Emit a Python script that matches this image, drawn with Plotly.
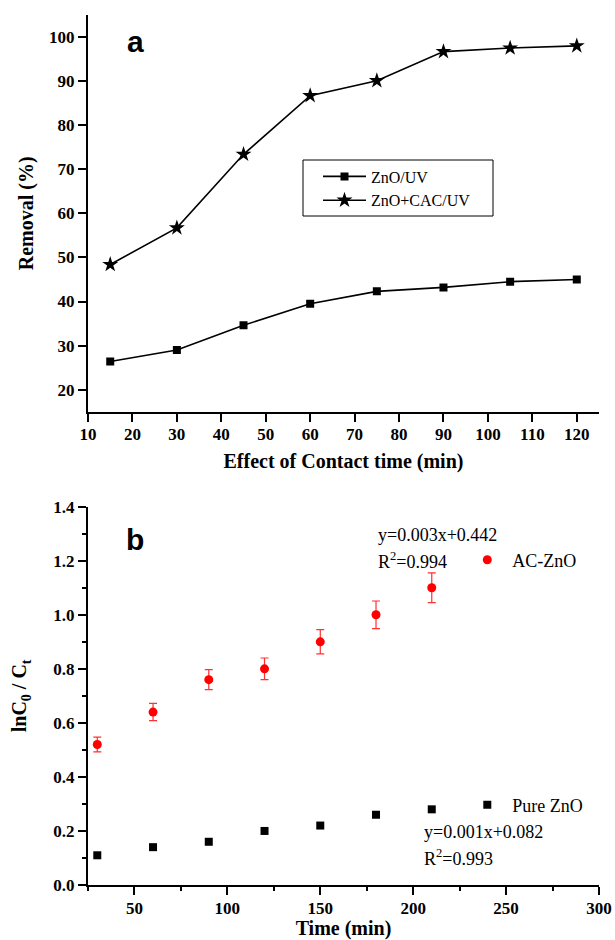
import plotly.graph_objects as go

# ---------------- data: panel a ----------------
contact_time = [15, 30, 45, 60, 75, 90, 105, 120]
removal_zno_uv = [26.4, 29.0, 34.6, 39.5, 42.3, 43.2, 44.5, 45.0]
removal_zno_cac_uv = [48.4, 56.7, 73.4, 86.7, 90.1, 96.7, 97.5, 98.0]
a_xticks = [10, 20, 30, 40, 50, 60, 70, 80, 90, 100, 110, 120]
a_yticks = [20, 30, 40, 50, 60, 70, 80, 90, 100]

# ---------------- data: panel b ----------------
time_min = [30, 60, 90, 120, 150, 180, 210]
ln_ac_zno = [0.52, 0.64, 0.76, 0.80, 0.90, 1.00, 1.10]
ln_ac_zno_err = [0.027, 0.032, 0.037, 0.040, 0.045, 0.051, 0.055]
ln_pure_zno = [0.11, 0.14, 0.16, 0.20, 0.22, 0.26, 0.28]
b_xticks = [50, 100, 150, 200, 250, 300]
b_yticks = [0.0, 0.2, 0.4, 0.6, 0.8, 1.0, 1.2, 1.4]

SERIF = "Liberation Serif"
SANS = "Liberation Sans"
TICKFONT = dict(family=SERIF, size=17, color="black", weight="bold")
TITLEFONT = dict(family=SERIF, size=20, color="black", weight="bold")

W, H = 615, 940
ML, MR, MT, MB = 88, 16, 15, 55
plot_h = H - MT - MB
plot_w = W - ML - MR


def py(pix):
    return (H - MB - pix) / plot_h


def px(pix):
    return (pix - ML) / plot_w


top_dom = [py(411.7), 1.0]
bot_dom = [0.0, py(506.7)]

fig = go.Figure()

# panel a traces
fig.add_trace(go.Scatter(
    x=contact_time, y=removal_zno_uv, mode="lines+markers", name="ZnO/UV",
    line=dict(color="black", width=1.6),
    marker=dict(symbol="square", size=8, color="black"),
    xaxis="x", yaxis="y", legend="legend"))
fig.add_trace(go.Scatter(
    x=contact_time, y=removal_zno_cac_uv, mode="lines+markers", name="ZnO+CAC/UV",
    line=dict(color="black", width=1.6),
    marker=dict(symbol="star", size=12, color="black"),
    xaxis="x", yaxis="y", legend="legend"))

# panel b traces
fig.add_trace(go.Scatter(
    x=time_min, y=ln_ac_zno, mode="markers", name="AC-ZnO",
    marker=dict(symbol="circle", size=9, color="#ff0000"),
    error_y=dict(type="data", array=ln_ac_zno_err, color="#ff3030", thickness=1.2, width=4),
    xaxis="x2", yaxis="y2", legend="legend2"))
fig.add_trace(go.Scatter(
    x=time_min, y=ln_pure_zno, mode="markers", name="Pure ZnO",
    marker=dict(symbol="square", size=8, color="black"),
    xaxis="x2", yaxis="y2", legend="legend3"))

axis_common = dict(showline=True, linecolor="black", linewidth=2, showgrid=False,
                   zeroline=False, ticks="outside", ticklen=8, tickwidth=1.5,
                   tickcolor="black", tickfont=TICKFONT, automargin=False)
mirror_common = dict(showline=True, linecolor="black", linewidth=2, showgrid=False,
                     zeroline=False, ticks="inside", ticklen=5, tickwidth=1,
                     tickcolor="black", showticklabels=False, automargin=False)

fig.update_layout(
    width=W, height=H,
    margin=dict(l=ML, r=MR, t=MT, b=MB),
    paper_bgcolor="white", plot_bgcolor="white",
    showlegend=True,
    xaxis=dict(domain=[0, 1], anchor="y", range=[10, 125], tickvals=a_xticks,
               ticklabelstandoff=-2,
               title=dict(text="Effect of Contact time (min)", font=TITLEFONT, standoff=11),
               **axis_common),
    yaxis=dict(domain=top_dom, anchor="x", range=[15, 105], tickvals=a_yticks,
               title=dict(text="Removal (%)", font=TITLEFONT, standoff=10),
               **axis_common),
    xaxis3=dict(overlaying="x", side="top", anchor="y", range=[10, 125], tickvals=a_xticks,
                **mirror_common),
    yaxis3=dict(overlaying="y", side="right", anchor="x", range=[15, 105], tickvals=a_yticks,
                **mirror_common),
    xaxis2=dict(domain=[0, 1], anchor="y2", range=[25, 300], tickvals=b_xticks,
                ticklabelstandoff=-1,
                minor=dict(dtick=25, tick0=25, ticks="outside", ticklen=4, tickcolor="black"),
                title=dict(text="Time (min)", font=TITLEFONT, standoff=1),
                **axis_common),
    yaxis2=dict(domain=bot_dom, anchor="x2", range=[0, 1.4], tickvals=b_yticks,
                tickformat=".1f",
                minor=dict(dtick=0.1, tick0=0, ticks="outside", ticklen=4, tickcolor="black"),
                title=dict(text="lnC<sub>0</sub> / C<sub>t</sub>", font=TITLEFONT, standoff=21),
                **axis_common),
    xaxis4=dict(overlaying="x2", side="top", anchor="y2", range=[25, 300], tickvals=b_xticks,
                minor=dict(dtick=25, tick0=25, ticks="inside", ticklen=3, tickcolor="black"),
                **mirror_common),
    yaxis4=dict(overlaying="y2", side="right", anchor="x2", range=[0, 1.4], tickvals=b_yticks,
                minor=dict(dtick=0.1, tick0=0, ticks="inside", ticklen=3, tickcolor="black"),
                **mirror_common),
    legend=dict(x=px(318), y=py(188.5), xanchor="left", yanchor="middle",
                bgcolor="rgba(0,0,0,0)", borderwidth=0, itemwidth=43,
                font=dict(family=SERIF, size=16, color="black"), tracegroupgap=0),
    legend2=dict(x=px(462.3), y=py(560), xanchor="left", yanchor="middle",
                 bgcolor="rgba(0,0,0,0)", borderwidth=0, itemwidth=40,
                 font=dict(family=SERIF, size=18, color="black")),
    legend3=dict(x=px(462.3), y=py(805), xanchor="left", yanchor="middle",
                 bgcolor="rgba(0,0,0,0)", borderwidth=0, itemwidth=40,
                 font=dict(family=SERIF, size=18, color="black")),
)

# legend frame of panel a
fig.add_shape(type="rect", xref="paper", yref="paper",
              x0=px(303), x1=px(493), y0=py(216), y1=py(160),
              line=dict(color="black", width=1), fillcolor="rgba(0,0,0,0)", layer="below")

ann_font = dict(family=SERIF, size=18, color="black")
fig.add_annotation(text="<b>a</b>", xref="x domain", yref="y domain", x=0.092, y=0.933,
                   xanchor="center", yanchor="middle", showarrow=False,
                   font=dict(family=SANS, size=30, color="black"))
fig.add_annotation(text="<b>b</b>", xref="x2 domain", yref="y2 domain", x=0.092, y=0.914,
                   xanchor="center", yanchor="middle", showarrow=False,
                   font=dict(family=SANS, size=30, color="black"))
fig.add_annotation(text="y=0.003x+0.442", xref="x2", yref="y2", x=180, y=1.296,
                   xanchor="left", yanchor="middle", showarrow=False, font=ann_font)
fig.add_annotation(text="R<sup>2</sup>=0.994", xref="x2", yref="y2", x=180, y=1.200,
                   xanchor="left", yanchor="middle", showarrow=False, font=ann_font)
fig.add_annotation(text="y=0.001x+0.082", xref="x2", yref="y2", x=205, y=0.195,
                   xanchor="left", yanchor="middle", showarrow=False, font=ann_font)
fig.add_annotation(text="R<sup>2</sup>=0.993", xref="x2", yref="y2", x=205, y=0.103,
                   xanchor="left", yanchor="middle", showarrow=False, font=ann_font)

fig.write_html("out.html",
               config={"displayModeBar": False},
               post_script="document.body.style.margin='0';document.body.style.overflow='hidden';")
